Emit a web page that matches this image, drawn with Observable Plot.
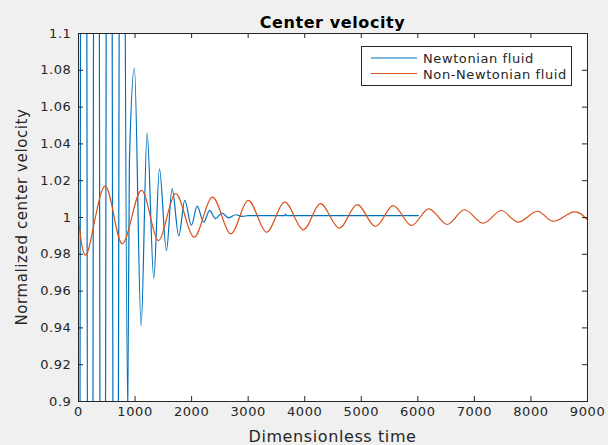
<!DOCTYPE html>
<html>
<head>
<meta charset="utf-8">
<script src="https://cdn.jsdelivr.net/npm/d3@7"></script>
<script src="https://cdn.jsdelivr.net/npm/@observablehq/plot@0.6"></script>
<style>
  html, body { margin: 0; padding: 0; background: #f0f0f0; }
  #wrap { position: relative; width: 608px; height: 445px; background: #f0f0f0; overflow: hidden; font-family: "DejaVu Sans", sans-serif; }
  #wrap svg text { letter-spacing: 0.6px; }
  #overlay { position: absolute; left: 0; top: 0; pointer-events: none; }
</style>
</head>
<body>
<div id="wrap"></div>
<script>
// ---- data ----
const newtonTime = [0, 94, 206, 315, 428, 540, 658, 760, 870, 900, 989, 1107, 1213, 1331, 1431, 1555, 1655, 1773, 1879, 1996, 2097, 2214, 2320, 2420, 2539, 2656, 2780, 2900, 3000, 3640, 3660, 3680, 6010];
const newtonVel  = [0.2, 1.9, 0.2, 1.8, 0.3, 1.7, 0.4, 1.5, 0.895, 1.03, 1.081, 0.941, 1.046, 0.967, 1.0265, 0.982, 1.0157, 0.990, 1.0093, 0.9957, 1.0062, 0.9975, 1.0039, 0.9994, 1.0024, 0.9998, 1.0015, 1.0006, 1.0010, 1.0010, 1.0018, 1.0010, 1.0010];

const nonNewtonTime = [0, 171, 477, 772, 1107, 1408, 1714, 2037, 2362, 2686, 2998, 3322, 3640, 3970, 4276, 4606, 4924, 5247, 5560, 5878, 6190, 6514, 6820, 7150, 7468, 7770, 8104, 8387, 8733, 9000];
const nonNewtonVel  = [0.9993, 0.982, 1.017, 0.9857, 1.0147, 0.9875, 1.0129, 0.9893, 1.0111, 0.9911, 1.0093, 0.992, 1.0084, 0.9933, 1.0075, 0.9942, 1.007, 0.9951, 1.0065, 0.9957, 1.0047, 0.9962, 1.0042, 0.9969, 1.0038, 0.9975, 1.0034, 0.998, 1.0029, 0.9987];

const xTicks = [0, 1000, 2000, 3000, 4000, 5000, 6000, 7000, 8000, 9000];
const yTicks = [0.9, 0.92, 0.94, 0.96, 0.98, 1.0, 1.02, 1.04, 1.06, 1.08, 1.1];
const yTickLabels = ["0.9", "0.92", "0.94", "0.96", "0.98", "1", "1.02", "1.04", "1.06", "1.08", "1.1"];

const seriesNames = ["Newtonian fluid", "Non-Newtonian fluid"];
const seriesColors = ["#0072BD", "#D95319"];
const titleText = "Center velocity";
const xLabelText = "Dimensionless time";
const yLabelText = "Normalized center velocity";

// ---- build tables ----
const newton = newtonTime.map((t, i) => ({t, v: newtonVel[i]}));
const nonNewton = nonNewtonTime.map((t, i) => ({t, v: nonNewtonVel[i]}));
const yLabelOf = new Map(yTicks.map((t, i) => [t, yTickLabels[i]]));

const W = 608, H = 445;
const mL = 78, mR = 21, mT = 33, mB = 44;
const innerW = W - mL - mR, innerH = H - mT - mB;
const tick = 5;
const axisColor = "#262626";

const chart = Plot.plot({
  width: W, height: H,
  marginLeft: mL, marginRight: mR, marginTop: mT, marginBottom: mB,
  style: {background: "transparent", fontFamily: "DejaVu Sans, sans-serif", fontSize: "13px", color: axisColor, overflow: "visible"},
  x: {domain: [0, 9000]},
  y: {domain: [0.9, 1.1]},
  marks: [
    Plot.frame({fill: "white", stroke: null}),
    Plot.line(newton, {x: "t", y: "v", stroke: seriesColors[0], strokeWidth: 1.2, curve: "monotone-x", clip: true}),
    Plot.line(nonNewton, {x: "t", y: "v", stroke: seriesColors[1], strokeWidth: 1.2, curve: "natural", clip: true}),
    Plot.ruleX(xTicks, {x: d => d, stroke: axisColor, insetTop: innerH - tick}),
    Plot.ruleX(xTicks, {x: d => d, stroke: axisColor, insetBottom: innerH - tick}),
    Plot.ruleY(yTicks, {y: d => d, stroke: axisColor, insetRight: innerW - tick}),
    Plot.ruleY(yTicks, {y: d => d, stroke: axisColor, insetLeft: innerW - tick}),
    Plot.axisX({ticks: xTicks, tickSize: 0, tickPadding: 5, tickFormat: d3.format("d"), label: null, fill: axisColor}),
    Plot.axisY({ticks: yTicks, tickSize: 0, tickPadding: 7, tickFormat: d => yLabelOf.get(d), label: null, fill: axisColor}),
    Plot.frame({stroke: axisColor, fill: "none"})
  ]
});

const wrap = document.getElementById("wrap");
wrap.appendChild(chart);

// ---- overlay: title, axis labels, legend ----
const ns = "http://www.w3.org/2000/svg";
const ov = document.createElementNS(ns, "svg");
ov.setAttribute("id", "overlay");
ov.setAttribute("width", W);
ov.setAttribute("height", H);
wrap.appendChild(ov);

function addText(txt, attrs) {
  const el = document.createElementNS(ns, "text");
  for (const k in attrs) el.setAttribute(k, attrs[k]);
  el.textContent = txt;
  ov.appendChild(el);
  return el;
}
addText(titleText, {x: mL + innerW / 2, y: 28, "text-anchor": "middle", "font-family": "DejaVu Sans", "font-size": 16, "font-weight": "bold", fill: "#000"});
addText(xLabelText, {x: mL + innerW / 2, y: 442, "text-anchor": "middle", "font-family": "DejaVu Sans", "font-size": 16, fill: axisColor});
addText(yLabelText, {x: 0, y: 0, "text-anchor": "middle", "font-family": "DejaVu Sans", "font-size": 15, fill: axisColor, transform: `translate(27,${mT + innerH / 2}) rotate(-90)`});

// legend
const lg = {x: 361.5, y: 46.5, w: 210, h: 39};
const rect = document.createElementNS(ns, "rect");
rect.setAttribute("x", lg.x); rect.setAttribute("y", lg.y);
rect.setAttribute("width", lg.w); rect.setAttribute("height", lg.h);
rect.setAttribute("fill", "white"); rect.setAttribute("stroke", axisColor);
ov.appendChild(rect);
seriesNames.forEach((name, i) => {
  const yy = 58 + i * 15.5;
  const ln = document.createElementNS(ns, "line");
  ln.setAttribute("x1", 371); ln.setAttribute("x2", 417);
  ln.setAttribute("y1", yy); ln.setAttribute("y2", yy);
  ln.setAttribute("stroke", seriesColors[i]); ln.setAttribute("stroke-width", 1.2);
  ov.appendChild(ln);
  addText(name, {x: 423, y: yy + 5, "font-family": "DejaVu Sans", "font-size": 13, fill: axisColor});
});
</script>
</body>
</html>
